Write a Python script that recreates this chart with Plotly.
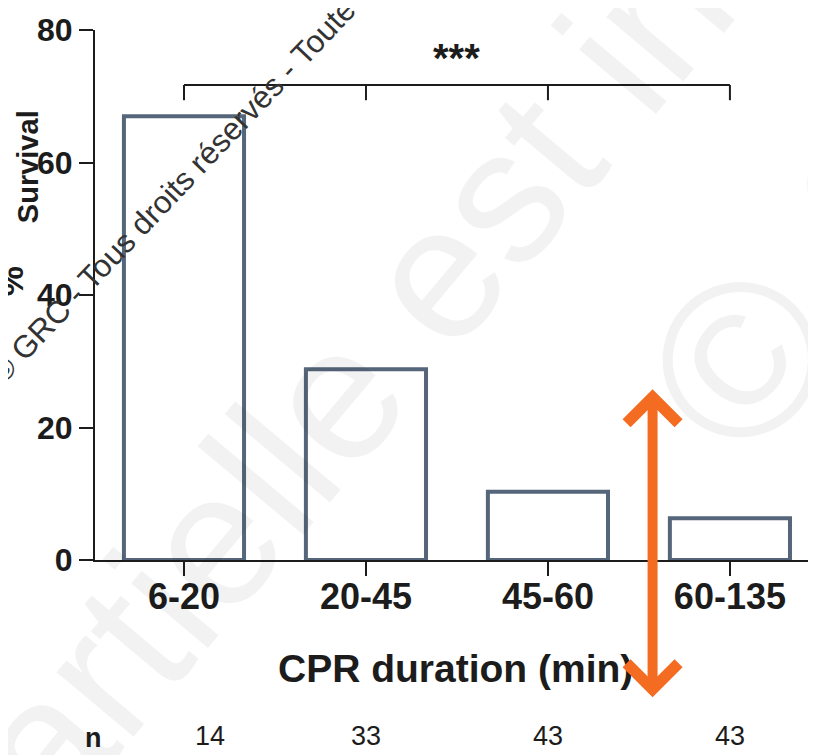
import plotly.graph_objects as go

# ---- data ----
categories = ["6-20", "20-45", "45-60", "60-135"]
survival_pct = [67.0, 28.8, 10.3, 6.3]
n_values = [14, 33, 43, 43]
y_ticks = [0, 20, 40, 60, 80]
significance = "***"

FONT = "Arial, 'Liberation Sans', Helvetica, sans-serif"
DARK = "#1c1c1c"
BAR_LINE = "#56667A"
ORANGE = "#F36C21"

x_idx = list(range(len(categories)))

fig = go.Figure(
    go.Bar(
        x=x_idx,
        y=survival_pct,
        width=0.66,
        marker=dict(color="white", line=dict(color=BAR_LINE, width=4)),
        hoverinfo="skip",
    )
)

# significance bracket across all groups
bracket_y = 71.7
bracket_tick = 69.4
shapes = [dict(type="line", xref="x", yref="y", x0=x_idx[0], x1=x_idx[-1],
               y0=bracket_y, y1=bracket_y, line=dict(color=DARK, width=2))]
for xi in x_idx:
    shapes.append(dict(type="line", xref="x", yref="y", x0=xi, x1=xi,
                       y0=bracket_y, y1=bracket_tick, line=dict(color=DARK, width=2)))

annotations = []
# stars
annotations.append(dict(x=(x_idx[0] + x_idx[-1]) / 2, y=75.8, xref="x", yref="y",
                        text=significance, showarrow=False,
                        font=dict(family=FONT, size=40, color=DARK, weight="bold"),
                        xanchor="center", yanchor="middle"))
# y-axis title pieces
annotations.append(dict(x=-0.1165, y=0.526, xref="paper", yref="paper", text="%",
                        textangle=-90, showarrow=False,
                        font=dict(family=FONT, size=34, color=DARK, weight="bold"),
                        xanchor="center", yanchor="middle"))
annotations.append(dict(x=-0.093, y=0.743, xref="paper", yref="paper", text="Survival",
                        textangle=-90, showarrow=False,
                        font=dict(family=FONT, size=29, color=DARK, weight="bold"),
                        xanchor="center", yanchor="middle"))
# x-axis title
annotations.append(dict(x=0.5, y=-0.2038, xref="paper", yref="paper",
                        text="CPR duration (min)", showarrow=False,
                        font=dict(family=FONT, size=39, color=DARK, weight="bold"),
                        xanchor="center", yanchor="middle"))
# n row
annotations.append(dict(x=-0.002, y=-0.336, xref="paper", yref="paper", text="n",
                        showarrow=False,
                        font=dict(family=FONT, size=27, color=DARK, weight="bold"),
                        xanchor="center", yanchor="middle"))
n_xshift = [26, 0, 0, 0]
for xi, nv, sh in zip(x_idx, n_values, n_xshift):
    annotations.append(dict(x=xi, y=-0.332, xref="x", yref="paper", text=str(nv),
                            xshift=sh, showarrow=False,
                            font=dict(family=FONT, size=27, color=DARK),
                            xanchor="center", yanchor="middle"))
# orange double arrow
annotations.append(dict(x=2.575, y=-20.7, ax=2.575, ay=26.0, xref="x", yref="y",
                        axref="x", ayref="y", text="", showarrow=True,
                        arrowside="end+start", arrowhead=4, startarrowhead=4,
                        arrowsize=1, startarrowsize=1, arrowwidth=10,
                        arrowcolor=ORANGE, standoff=0, startstandoff=0))
# watermark texts
annotations.append(dict(x=0.541, y=0.651, xref="paper", yref="paper",
                        text="partielle est interdite", textangle=-50, showarrow=False,
                        font=dict(family=FONT, size=190, color="rgba(0,0,0,0.05)"),
                        xanchor="center", yanchor="middle"))
annotations.append(dict(x=1.14, y=0.775, xref="paper", yref="paper",
                        text="© GRC", textangle=-50, showarrow=False,
                        font=dict(family=FONT, size=220, color="rgba(0,0,0,0.05)"),
                        xanchor="center", yanchor="middle"))
annotations.append(dict(x=0.1068, y=0.697, xref="paper", yref="paper",
                        text="© GRC - Tous droits réservés - Toute", textangle=-46.5,
                        showarrow=False,
                        font=dict(family=FONT, size=31.5, color="#333333"),
                        xanchor="center", yanchor="middle"))

# page body has an 8px default margin, so the figure is sized to fit the window
fig.update_layout(
    width=808, height=747,
    margin=dict(l=87, r=0, t=22, b=195, autoexpand=False),
    paper_bgcolor="white", plot_bgcolor="white",
    showlegend=False,
    shapes=shapes,
    annotations=annotations,
    xaxis=dict(
        range=[-0.489, 3.473], automargin=False,
        tickmode="array", tickvals=x_idx, ticktext=categories,
        showline=True, linecolor=DARK, linewidth=2,
        ticks="outside", ticklen=14, tickwidth=2, tickcolor=DARK,
        ticklabelstandoff=-10,
        tickfont=dict(family=FONT, size=36, color=DARK, weight="bold"),
        showgrid=False, zeroline=False, fixedrange=True,
    ),
    yaxis=dict(
        range=[0, 80], automargin=False,
        tickmode="array", tickvals=y_ticks,
        showline=True, linecolor=DARK, linewidth=2,
        ticks="outside", ticklen=14, tickwidth=2, tickcolor=DARK,
        tickfont=dict(family=FONT, size=32, color=DARK, weight="bold"),
        showgrid=False, zeroline=False, fixedrange=True,
    ),
)

fig.write_html("out.html")
